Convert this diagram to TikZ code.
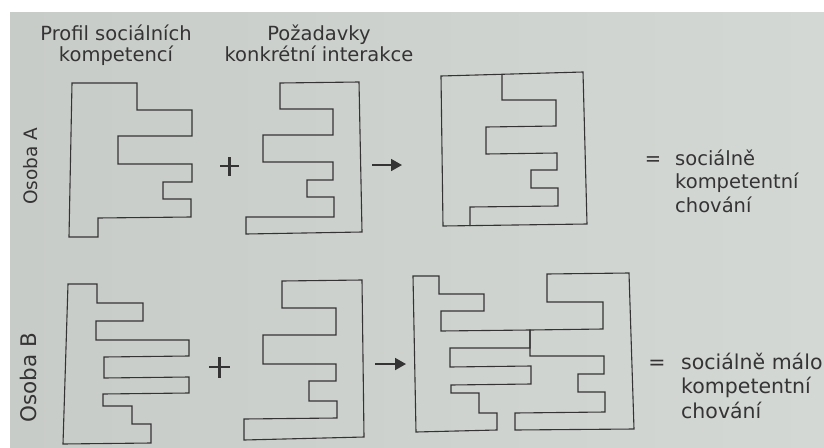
\documentclass[tikz,border=0pt]{standalone}
\usepackage{fontspec}
\setmainfont{DejaVu Sans}
\usetikzlibrary{arrows.meta}
\definecolor{paper}{RGB}{200,204,200}
\definecolor{paperlight}{RGB}{212,216,213}
\definecolor{ink}{RGB}{52,52,52}
\begin{document}
\begin{tikzpicture}[x=1pt,y=-1pt,
  outline/.style={draw=ink,line width=1.1pt,line join=miter},
  caption/.style={text=ink,inner sep=0pt,align=center,anchor=base,
    font=\fontsize{19.5pt}{21pt}\selectfont},
  rowlabel/.style={text=ink,inner sep=0pt,rotate=90},
  result/.style={text=ink,inner sep=0pt,align=left,anchor=base west},
  eqsign/.style={text=ink,inner sep=0pt,anchor=base},
  plusbar/.style={draw=ink,line width=2.2pt},
  leadsto/.style={draw=ink,line width=1.8pt,-{Triangle[length=11pt,width=12pt]}}]
\useasboundingbox (0,0) rectangle (824,447);
% page photo: white rim at top and left, grey paper elsewhere
\fill[white] (0,0) rectangle (824,447);
\shade[left color=paper,right color=paperlight] (10,12) rectangle (824,447);

% column headings (multi-line nodes sit on the baseline of their last line)
\node[caption] (headA) at (116,61) {Profil sociálních\\kompetencí};
\node[caption] (headB) at (319,61) {Požadavky\\konkrétní interakce};

% row labels
\node[rowlabel,font=\fontsize{18.5pt}{20pt}\selectfont] (rowA) at (31,166) {Osoba A};
\node[rowlabel,font=\fontsize{21.5pt}{24pt}\selectfont] (rowB) at (28,378) {Osoba B};

% ---------- person A ----------
\draw[outline] (72,83) -- (137,83) -- (137,110) -- (192,110) -- (192,136)
  -- (118,136) -- (118,164) -- (192,164) -- (192,182) -- (163,182)
  -- (163,199) -- (191,199) -- (191,217) -- (98,218) -- (98,237)
  -- (69,237) -- cycle;
\coordinate (plusA) at (229.5,166);
\draw[plusbar] ([xshift=-9.5pt]plusA) -- ([xshift=9.5pt]plusA);
\draw[plusbar] ([yshift=-9.5pt]plusA) -- ([yshift=9.5pt]plusA);
\draw[outline] (280,83) -- (280,109) -- (333,109) -- (333,135) -- (263,135)
  -- (263,162) -- (333,162) -- (333,180) -- (307,180) -- (307,197)
  -- (334,197) -- (334,217) -- (246,217) -- (246,234) -- (362,232)
  -- (359,82) -- cycle;
\coordinate (arrA0) at (372,165);
\coordinate (arrA1) at (402,165);
\draw[leadsto] (arrA0) -- (arrA1);
% good fit
\draw[outline] (441,76) -- (583,72) -- (587,224) -- (443,226) -- cycle;
\draw[outline] (502,75) -- (502,100) -- (556,100) -- (556,126) -- (486,127)
  -- (486,154) -- (557,153) -- (557,170) -- (531,170) -- (531,188)
  -- (558,188) -- (558,206) -- (470,207) -- (470,226);
\node[eqsign,font=\fontsize{19.5pt}{23.5pt}\selectfont] (eqA) at (653,165) {=};
\node[result,font=\fontsize{19.5pt}{23.5pt}\selectfont] (resA) at (675,212)
  {sociálně\\kompetentní\\chování};

% ---------- person B ----------
\draw[outline] (68,284) -- (97,284) -- (97,303) -- (143,303) -- (143,321)
  -- (96,321) -- (96,340) -- (189,340) -- (189,356) -- (104,357)
  -- (104,378) -- (189,377) -- (189,393) -- (103,394) -- (103,406)
  -- (132,406) -- (132,424) -- (151,424) -- (151,443) -- (63,444) -- cycle;
\coordinate (plusB) at (219.5,367);
\draw[plusbar] ([xshift=-10.5pt]plusB) -- ([xshift=10.5pt]plusB);
\draw[plusbar] ([yshift=-10.5pt]plusB) -- ([yshift=10.5pt]plusB);
\draw[outline] (282,281) -- (282,308) -- (336,308) -- (336,335) -- (263,335)
  -- (263,364) -- (336,364) -- (336,381) -- (309,381) -- (309,401)
  -- (337,401) -- (337,418) -- (244,419) -- (244,440) -- (364,437)
  -- (362,280) -- cycle;
\coordinate (arrB0) at (375,364);
\coordinate (arrB1) at (406,364);
\draw[leadsto] (arrB0) -- (arrB1);
% poor fit: profile piece
\draw[outline] (413,276) -- (439,276) -- (439,294) -- (484,294) -- (484,311)
  -- (441,311) -- (441,331) -- (530,330) -- (530,348) -- (450,348)
  -- (450,367) -- (531,366) -- (531,384) -- (451,385) -- (451,393)
  -- (479,393) -- (479,413) -- (497,413) -- (497,430) -- (416,432) -- cycle;
% poor fit: requirement piece
\draw[outline] (547,274) -- (547,302) -- (603,302) -- (603,329) -- (530,330)
  -- (530,356) -- (604,356) -- (604,374) -- (578,374) -- (578,392)
  -- (605,392) -- (605,412) -- (515,413) -- (515,430) -- (634,429)
  -- (629,273) -- cycle;
\node[eqsign,font=\fontsize{20.5pt}{24.5pt}\selectfont] (eqB) at (657,369) {=};
\node[result,font=\fontsize{20.5pt}{24.5pt}\selectfont] (resB) at (681,418)
  {sociálně málo\\kompetentní\\chování};
\end{tikzpicture}
\end{document}
